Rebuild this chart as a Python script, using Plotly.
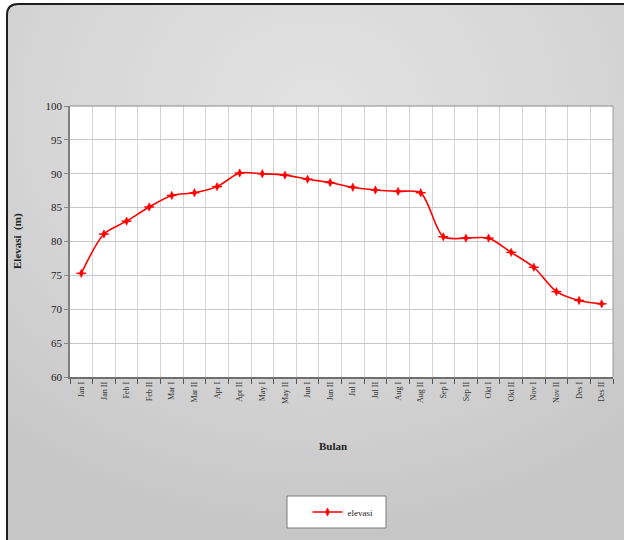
import plotly.graph_objects as go

# Half-monthly periods
periods = ["Jan I", "Jan II", "Feb I", "Feb II", "Mar I", "Mar II",
           "Apr I", "Apr II", "May I", "May II", "Jun I", "Jun II",
           "Jul I", "Jul II", "Aug I", "Aug II", "Sep I", "Sep II",
           "Okt I", "Okt II", "Nov I", "Nov II", "Des I", "Des II"]

# Water surface elevation (m)
elevasi = [75.3, 81.1, 83.0, 85.1, 86.8, 87.2,
           88.1, 90.1, 90.0, 89.8, 89.2, 88.7,
           88.0, 87.6, 87.4, 87.2, 80.7, 80.5,
           80.5, 78.4, 76.2, 72.6, 71.3, 70.8]

y_ticks = [60, 65, 70, 75, 80, 85, 90, 95, 100]

W, H = 624, 540
L, R, T, B = 70, 11, 106, 163
pw, ph = W - L - R, H - T - B

def px(x):
    return (x - L) / pw

def py(y):
    return (H - B - y) / ph

# Grey rounded chart-area panel with a soft radial gradient
bg_w, bg_h = 618, 537
svg = (
    "<svg xmlns='http://www.w3.org/2000/svg' width='%d' height='%d'>"
    "<defs><radialGradient id='g' cx='0.5' cy='0.2' r='0.8'>"
    "<stop offset='0' stop-color='#e2e2e2'/>"
    "<stop offset='0.55' stop-color='#d6d6d6'/>"
    "<stop offset='1' stop-color='#c6c6c6'/></radialGradient></defs>"
    "<path d='M1,%d L1,12 Q1,1 12,1 L%d,1 L%d,%d Z' fill='url(#g)'/>"
    "<path d='M1,%d L1,12 Q1,1 12,1 L%d,1' fill='none' stroke='#1e1e1e' stroke-width='2'/>"
    "</svg>"
) % (bg_w, bg_h, bg_h, bg_w, bg_w, bg_h, bg_h, bg_w)
svg_uri = "data:image/svg+xml;utf8," + svg.replace("#", "%23").replace("<", "%3C").replace(">", "%3E").replace("'", "%27").replace(" ", "%20")

fig = go.Figure()
fig.add_trace(go.Scatter(
    x=periods, y=elevasi, name="elevasi", mode="lines+markers",
    line=dict(color="#ff0000", width=1.6, shape="spline", smoothing=0.8),
    marker=dict(symbol="diamond-tall", size=6, color="#ff0000",
                line=dict(color="#ff0000", width=0.5)),
))
# horizontal bar of each cross-shaped marker
fig.add_trace(go.Scatter(
    x=periods, y=elevasi, mode="markers", showlegend=False, hoverinfo="skip",
    marker=dict(symbol="line-ew", size=7, line=dict(color="#ff0000", width=1.5)),
))

fig.update_layout(
    width=W, height=H,
    margin=dict(l=L, r=R, t=T, b=B),
    paper_bgcolor="white", plot_bgcolor="white",
    showlegend=True,
    legend=dict(x=px(343), y=py(512), xanchor="center", yanchor="middle",
                bgcolor="rgba(0,0,0,0)", borderwidth=0,
                font=dict(family="Liberation Serif", size=9, color="#222"),
                itemwidth=30),
    images=[dict(source=svg_uri, xref="paper", yref="paper",
                 x=px(6), y=py(3), sizex=bg_w / pw, sizey=bg_h / ph,
                 xanchor="left", yanchor="top", sizing="stretch", layer="below")],
    shapes=[
        dict(type="rect", xref="paper", yref="paper", x0=0, x1=1, y0=0, y1=1,
             fillcolor="white", line=dict(width=0), layer="below"),
        dict(type="rect", xref="paper", yref="paper",
             x0=px(287), x1=px(386), y0=py(528), y1=py(496),
             fillcolor="white", line=dict(color="#7a7a7a", width=1), layer="above"),
        dict(type="line", xref="paper", yref="paper", x0=1, x1=1, y0=0, y1=1,
             line=dict(color="#9a9a9a", width=1)),
        dict(type="line", xref="paper", yref="paper", x0=0, x1=1, y0=1, y1=1,
             line=dict(color="#8a8a8a", width=1)),
    ],
    annotations=[
        dict(text="<b>Elevasi  (m)</b>", xref="paper", yref="paper",
             x=px(17), y=py(241), xanchor="center", yanchor="middle",
             textangle=-90, showarrow=False,
             font=dict(family="Liberation Serif", size=11, color="#222")),
        dict(text="<b>Bulan</b>", xref="paper", yref="paper",
             x=px(333), y=py(446), xanchor="center", yanchor="middle",
             showarrow=False,
             font=dict(family="Liberation Serif", size=11, color="#222")),
    ],
)

fig.update_xaxes(
    type="category", range=[-0.5, len(periods) - 0.5],
    tickson="boundaries", ticks="outside", ticklen=5, tickcolor="#555",
    showgrid=True, gridcolor="#d4d4d4", gridwidth=1,
    showline=True, linecolor="#707070", linewidth=1.5,
    tickangle=-90, tickfont=dict(family="Liberation Serif", size=8, color="#333"),
)
fig.update_yaxes(
    range=[60, 100], tickvals=y_ticks, ticktext=[str(v) for v in y_ticks],
    ticks="outside", ticklen=4, tickcolor="#888",
    showgrid=True, gridcolor="#c8c8c8", gridwidth=1,
    showline=True, linecolor="#808080", linewidth=1.5, zeroline=False,
    tickfont=dict(family="Liberation Serif", size=11, color="#222"),
)

fig.write_html("out.html")
